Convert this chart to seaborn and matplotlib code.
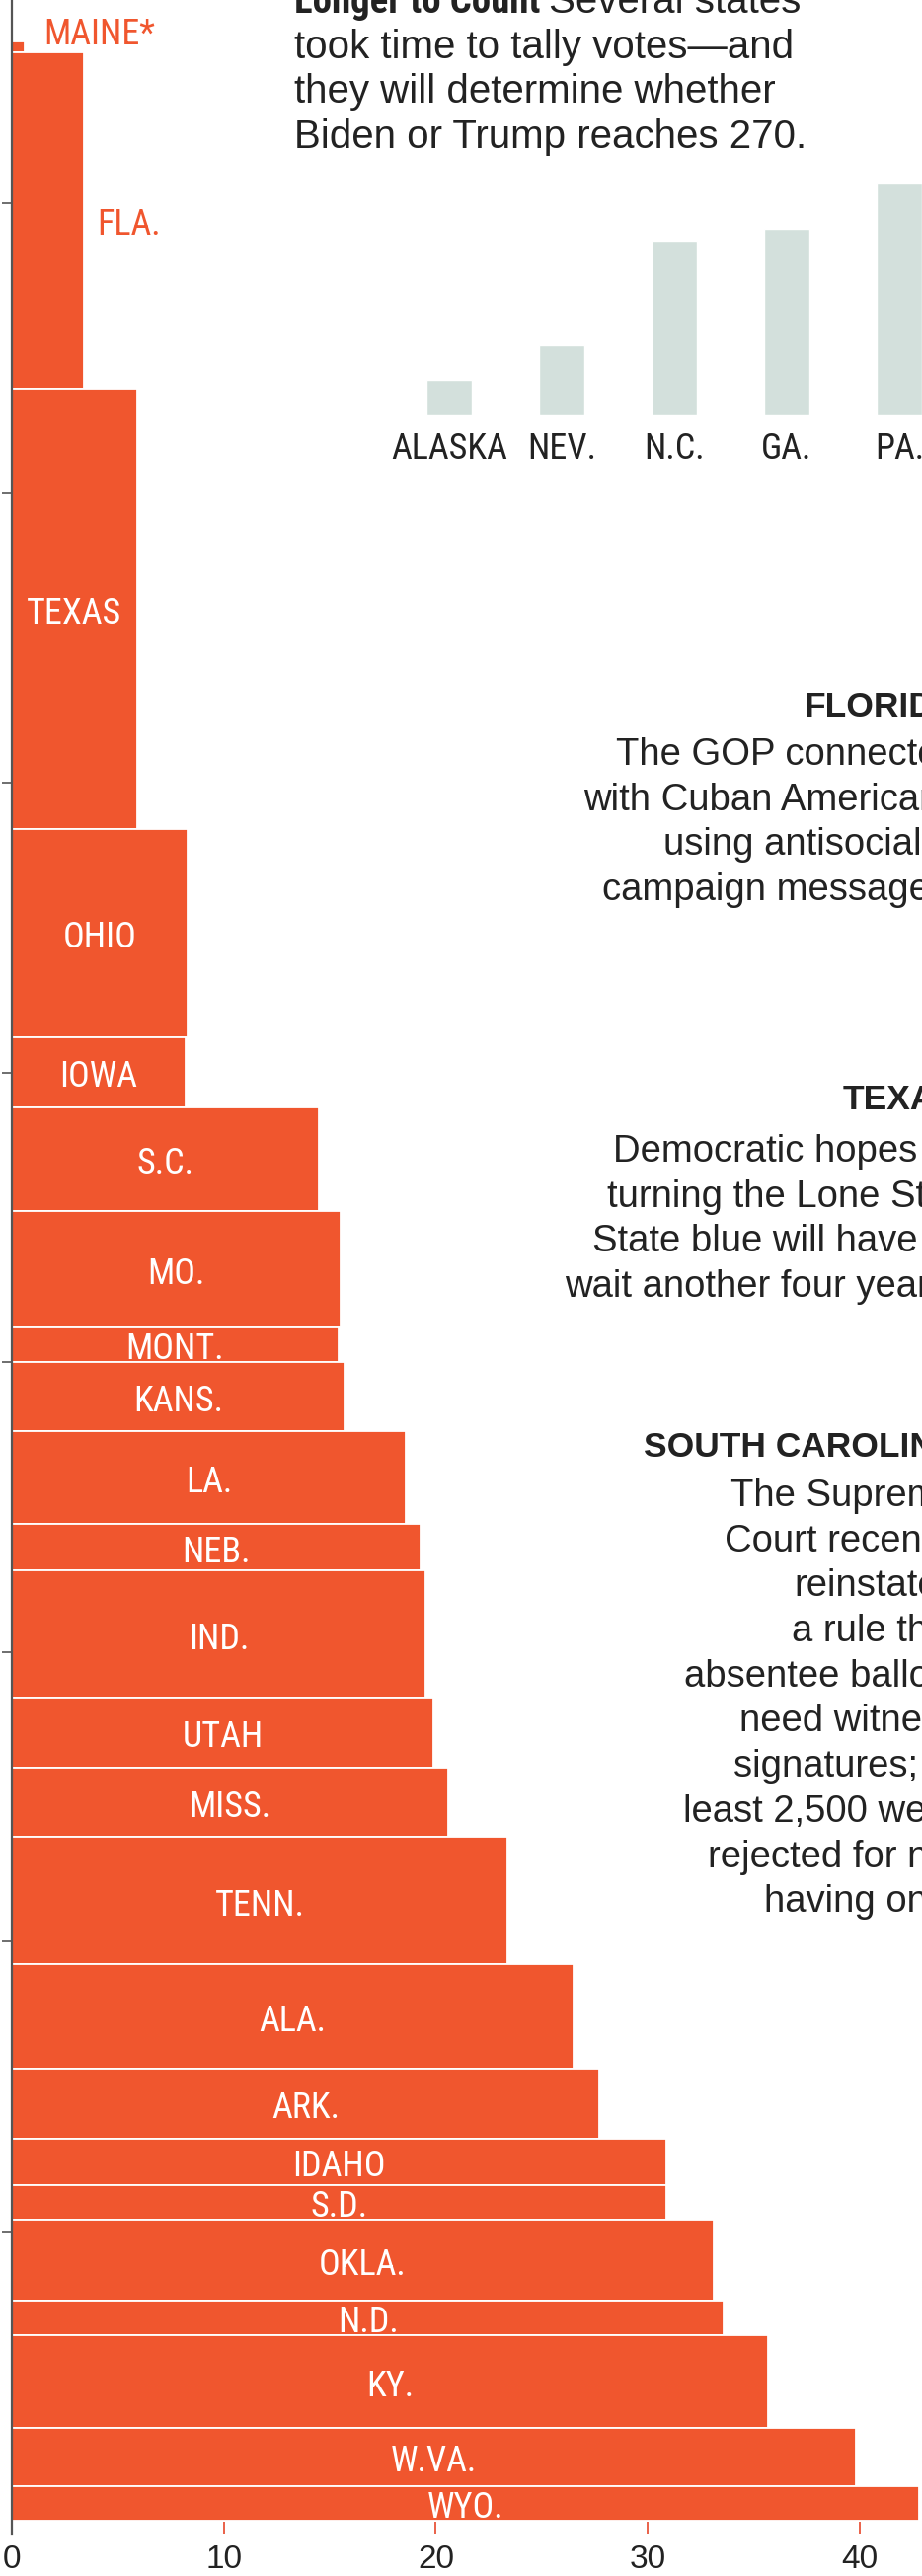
import numpy as np
import pandas as pd
import seaborn as sns
import matplotlib
matplotlib.use("Agg")
import matplotlib.pyplot as plt

# states Trump won, listed top to bottom; width = margin (pct pts), height = electoral votes
states = ["MAINE*", "FLA.", "TEXAS", "OHIO", "IOWA", "S.C.", "MO.", "MONT.", "KANS.",
          "LA.", "NEB.", "IND.", "UTAH", "MISS.", "TENN.", "ALA.", "ARK.", "IDAHO",
          "S.D.", "OKLA.", "N.D.", "KY.", "W.VA.", "WYO."]
margin = [0.6, 3.4, 5.9, 8.3, 8.2, 14.5, 15.5, 15.4, 15.7, 18.6, 19.3, 19.5,
          19.9, 20.6, 23.4, 26.5, 27.7, 30.9, 30.9, 33.1, 33.6, 35.7, 39.8, 42.8]
electoral_votes = [1, 29, 38, 18, 6, 9, 10, 3, 6, 8, 4, 11,
                   6, 6, 11, 9, 6, 4, 3, 7, 3, 8, 5, 3]

# states still counting
swing_states = ["ALASKA", "NEV.", "N.C.", "GA.", "PA."]
swing_ev = [3, 6, 15, 16, 20]

x_ticks = [0, 10, 20, 30, 40]
y_ticks = [25, 50, 75, 100, 125, 150, 175, 200]

title_bold = "Longer to Count"
title_lines = ["Several states", "took time to tally votes\u2014and",
               "they will determine whether", "Biden or Trump reaches 270."]

notes = [
    ("FLORIDA", ["The GOP connected", "with Cuban Americans", "using antisocialist",
                 "campaign messages."]),
    ("TEXAS", ["Democratic hopes of", "turning the Lone Star", "State blue will have to",
               "wait another four years."]),
    ("SOUTH CAROLINA", ["The Supreme", "Court recently", "reinstated", "a rule that",
                        "absentee ballots", "need witness", "signatures; at",
                        "least 2,500 were", "rejected for not", "having one."]),
]

ORANGE = "#f0562e"
GREY_BAR = "#d3e0dc"
INK = "#222222"
NARROW = ["Roboto Condensed", "DejaVu Sans"]
REG = ["Liberation Sans", "DejaVu Sans"]

sns.set_style("white")
plt.rcParams["font.family"] = REG

W, H = 934, 2610
def fx(px):
    return px / W
def fy(py):
    return 1 - py / H

fig = plt.figure(figsize=(W / 100, H / 100), dpi=100)

# ---- main chart: bar width = margin, bar height = electoral votes
px_ev = 11.74
base_px = 2554
ax_bottom_px = 2567
ax = fig.add_axes([fx(12), fy(ax_bottom_px), (W - 12) / W, ax_bottom_px / H])
ax.set_xlim(0, (W - 12) / 21.47)
ax.set_ylim(-(ax_bottom_px - base_px) / px_ev, base_px / px_ev)

ev = np.array(electoral_votes)
bottoms = ev[::-1].cumsum()[::-1] - ev
ax.barh(bottoms, margin, height=ev, align="edge", color=ORANGE,
        edgecolor="white", linewidth=1.3, zorder=1)

for name, m, b, e in zip(states, margin, bottoms, ev):
    yc = b + e / 2
    if m < 4:
        # too thin, label goes outside
        dx = 0.9 if e < 2 else 0.6
        dy = 1.1 if e < 2 else -0.4
        ax.text(m + dx, yc + dy, name, color=ORANGE, fontsize=26, family=NARROW,
                stretch="condensed", ha="left", va="center")
    else:
        ax.text(m / 2, yc - 0.4, name, color="white", fontsize=26, family=NARROW,
                stretch="condensed", ha="center", va="center")

sns.despine(ax=ax, top=True, right=True, bottom=True, left=False)
ax.spines["left"].set_color("#555555")
ax.spines["left"].set_linewidth(1.6)
ax.set_yticks(y_ticks)
ax.set_yticklabels([])
ax.tick_params(axis="y", direction="out", length=7, width=1.2, color="#555555", left=True)
ax.set_xticks(x_ticks)
ax.set_xticklabels([str(t) for t in x_ticks])
ax.tick_params(axis="x", direction="in", length=9, width=1.3, color="#e8553a",
               bottom=True, pad=8, labelsize=24, labelcolor=INK)
ax.grid(False)

# ---- inset: states still counting
ins = fig.add_axes([fx(398), fy(420), 570 / W, 20 * px_ev / H])
swing = pd.DataFrame({"state": swing_states, "ev": swing_ev})
sns.barplot(data=swing, x="state", y="ev", color=GREY_BAR, width=0.41,
            saturation=1, ax=ins)
ins.set_xlim(-0.5, 4.5)
ins.set_ylim(0, 20)
ins.set_xlabel("")
ins.set_ylabel("")
ins.set_yticks([])
sns.despine(ax=ins, left=True, bottom=True)
ins.tick_params(axis="x", length=0, pad=12, labelsize=26, labelcolor=INK)
for lab in ins.get_xticklabels():
    lab.set_family(NARROW)
    lab.set_stretch("condensed")
ins.patch.set_alpha(0)

# ---- title text
tx = fx(298)
lead = 45.7
base0 = 13
bold = fig.text(tx, fy(base0), title_bold, fontsize=28, family=NARROW,
                stretch="condensed", fontweight="bold", color=INK,
                va="baseline", ha="left")
fig.canvas.draw()
bb = bold.get_window_extent()
fig.text(bb.x1 / W + fx(9), fy(base0), title_lines[0], fontsize=29, color=INK,
         va="baseline", ha="left")
for i, line in enumerate(title_lines[1:], start=1):
    fig.text(tx, fy(base0 + i * lead), line, fontsize=29, color=INK,
             va="baseline", ha="left")

# ---- right-hand notes (run past the page edge like the original)
note_right = 972
note_pos = [(726, 775), (1124, 1177), (1476, 1526)]
for (head, body), (hy, by) in zip(notes, note_pos):
    fig.text(fx(note_right), fy(hy), head, fontsize=25.5,
             fontweight="bold", color=INK, ha="right", va="baseline")
    for i, line in enumerate(body):
        fig.text(fx(note_right), fy(by + i * lead), line, fontsize=27.5,
                 color=INK, ha="right", va="baseline")

fig.savefig("out.png", dpi=100)
